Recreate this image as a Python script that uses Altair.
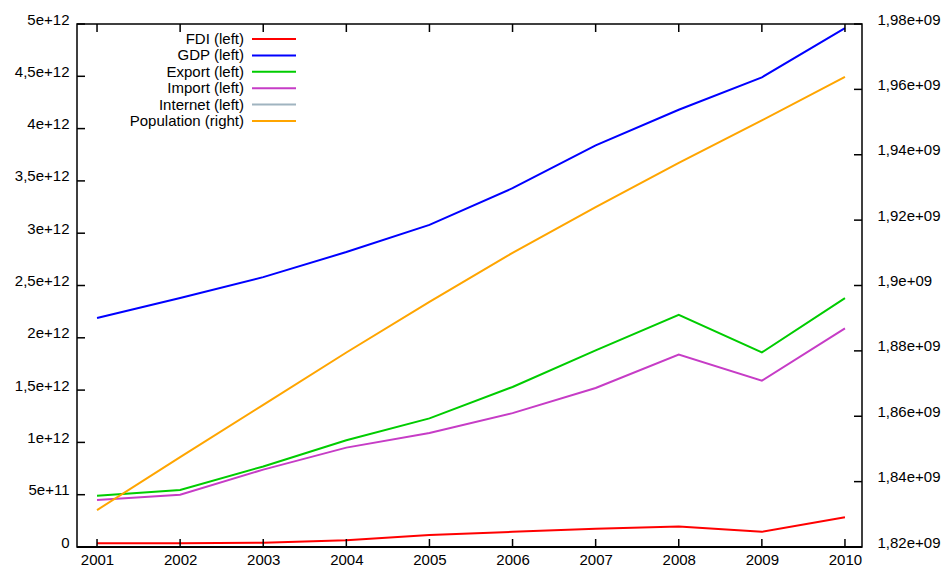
import altair as alt
import pandas as pd

# Yearly series (left axis in USD, right axis in persons)
years = [2001, 2002, 2003, 2004, 2005, 2006, 2007, 2008, 2009, 2010]
fdi = [0.035e12, 0.035e12, 0.04e12, 0.065e12, 0.115e12, 0.145e12, 0.175e12, 0.195e12, 0.145e12, 0.285e12]
gdp = [2.19e12, 2.38e12, 2.58e12, 2.82e12, 3.08e12, 3.43e12, 3.84e12, 4.18e12, 4.49e12, 4.96e12]
export = [0.49e12, 0.545e12, 0.77e12, 1.02e12, 1.23e12, 1.53e12, 1.88e12, 2.22e12, 1.86e12, 2.38e12]
imports = [0.45e12, 0.50e12, 0.74e12, 0.95e12, 1.09e12, 1.28e12, 1.52e12, 1.84e12, 1.59e12, 2.09e12]
internet = [0, 0, 0, 0, 0, 0, 0, 0, 0, 0]
population = [1.8313e9, 1.8475e9, 1.8635e9, 1.8795e9, 1.8950e9, 1.9100e9, 1.9240e9, 1.9375e9, 1.9505e9, 1.9638e9]

series_names = ["FDI", "GDP", "Export", "Import", "Internet", "Population"]
legend_labels = ["FDI (left)", "GDP (left)", "Export (left)", "Import (left)",
                 "Internet (left)", "Population (right)"]
series_colors = ["#ff0000", "#0000ff", "#00cc00", "#c63cc6", "#a0b4c0", "#ffa500"]

left_ticks = [0, 5e11, 1e12, 1.5e12, 2e12, 2.5e12, 3e12, 3.5e12, 4e12, 4.5e12, 5e12]
left_tick_labels = ["0", "5e+11", "1e+12", "1,5e+12", "2e+12", "2,5e+12", "3e+12",
                    "3,5e+12", "4e+12", "4,5e+12", "5e+12"]
right_ticks = [1.82e9, 1.84e9, 1.86e9, 1.88e9, 1.9e9, 1.92e9, 1.94e9, 1.96e9, 1.98e9]
right_tick_labels = ["1,82e+09", "1,84e+09", "1,86e+09", "1,88e+09", "1,9e+09",
                     "1,92e+09", "1,94e+09", "1,96e+09", "1,98e+09"]

FONT = "Liberation Sans"
W, H = 785, 523
TICK = 8


def label_expr(values, labels):
    expr = "''"
    for v, lab in reversed(list(zip(values, labels))):
        expr = f"datum.value == {float(v)!r} ? '{lab}' : ({expr})"
    return expr


left_rows = []
for name, vals in zip(series_names[:5], [fdi, gdp, export, imports, internet]):
    for yr, v in zip(years, vals):
        left_rows.append({"year": yr, "series": name, "value": v})
left_df = pd.DataFrame(left_rows)
pop_df = pd.DataFrame({"year": years, "series": "Population", "value": population})
legend_df = pd.DataFrame({"series": series_names, "label": legend_labels})
year_df = pd.DataFrame({"year": years})

x_scale = alt.Scale(domain=[2000.759, 2010.205], nice=False, zero=False)
left_scale = alt.Scale(domain=[0, 5e12], nice=False, zero=False)
right_scale = alt.Scale(domain=[1.82e9, 1.98e9], nice=False, zero=False)
color_scale = alt.Scale(domain=series_names, range=series_colors)
legend_scale = alt.Scale(type="point", range=[15, 97], padding=0)

x_axis = alt.Axis(values=years, format="d", tickSize=0, domain=False, grid=False,
                  labelPadding=5, title=None, labelFlush=False)
left_axis = alt.Axis(values=left_ticks, labelExpr=label_expr(left_ticks, left_tick_labels),
                     tickSize=0, domain=False, grid=False, labelPadding=8, labelOffset=-5,
                     title=None, labelFlush=False)
right_axis = alt.Axis(orient="right", values=right_ticks,
                      labelExpr=label_expr(right_ticks, right_tick_labels),
                      tickSize=0, domain=False, grid=False, labelPadding=15, labelOffset=-5,
                      title=None, labelFlush=False)
x_enc = alt.X("year:Q", scale=x_scale, axis=x_axis)

left_lines = alt.Chart(left_df).mark_line(strokeWidth=2).encode(
    x=x_enc,
    y=alt.Y("value:Q", scale=left_scale, axis=left_axis),
    color=alt.Color("series:N", scale=color_scale, legend=None),
)

pop_line = alt.Chart(pop_df).mark_line(strokeWidth=2).encode(
    x=x_enc,
    y=alt.Y("value:Q", scale=right_scale, axis=right_axis),
    color=alt.Color("series:N", scale=color_scale, legend=None),
)

# frame edge redrawn above the data so the zero-level line stays under it
bottom_edge = alt.Chart(year_df).mark_rule(color="black", strokeWidth=1.5).encode(
    x=alt.value(0), x2=alt.value(W), y=alt.value(H),
)

# inward-pointing tick marks on all four sides of the frame
left_tick_marks = alt.Chart(pd.DataFrame({"v": left_ticks})).mark_rule(
    color="black", strokeWidth=1.5).encode(
    y=alt.Y("v:Q", scale=left_scale, axis=None),
    x=alt.value(0), x2=alt.value(TICK),
)
right_tick_marks = alt.Chart(pd.DataFrame({"v": right_ticks})).mark_rule(
    color="black", strokeWidth=1.5).encode(
    y=alt.Y("v:Q", scale=right_scale, axis=None),
    x=alt.value(W), x2=alt.value(W - TICK),
)
bottom_tick_marks = alt.Chart(year_df).mark_rule(
    color="black", strokeWidth=1.5).encode(
    x=x_enc,
    y=alt.value(H), y2=alt.value(H - TICK),
)
top_tick_marks = alt.Chart(year_df).mark_rule(
    color="black", strokeWidth=1.5).encode(
    x=x_enc,
    y=alt.value(0), y2=alt.value(TICK),
)

# key in the upper-left corner: right-aligned text followed by a line sample
legend_text = alt.Chart(legend_df).mark_text(
    align="right", baseline="middle", font=FONT, fontSize=15, color="black").encode(
    y=alt.Y("label:N", scale=legend_scale, sort=legend_labels, axis=None),
    x=alt.value(167),
    text="label:N",
)
legend_lines = alt.Chart(legend_df).mark_rule(strokeWidth=2).encode(
    y=alt.Y("label:N", scale=legend_scale, sort=legend_labels, axis=None),
    x=alt.value(175), x2=alt.value(219),
    color=alt.Color("series:N", scale=color_scale, legend=None),
)

chart = alt.layer(
    left_lines, pop_line, bottom_edge,
    left_tick_marks, right_tick_marks, bottom_tick_marks, top_tick_marks,
    legend_text, legend_lines,
).resolve_scale(y="independent").properties(
    width=W, height=H,
    padding={"left": 77, "top": 24, "right": 83, "bottom": 22},
    autosize=alt.AutoSizeParams(type="none"),
    background="white",
).configure_view(
    stroke="black", strokeWidth=1.5,
).configure_axis(
    labelFont=FONT, labelFontSize=15, labelColor="black",
)

chart.save("out.html", embed_options={"renderer": "svg", "actions": False})
